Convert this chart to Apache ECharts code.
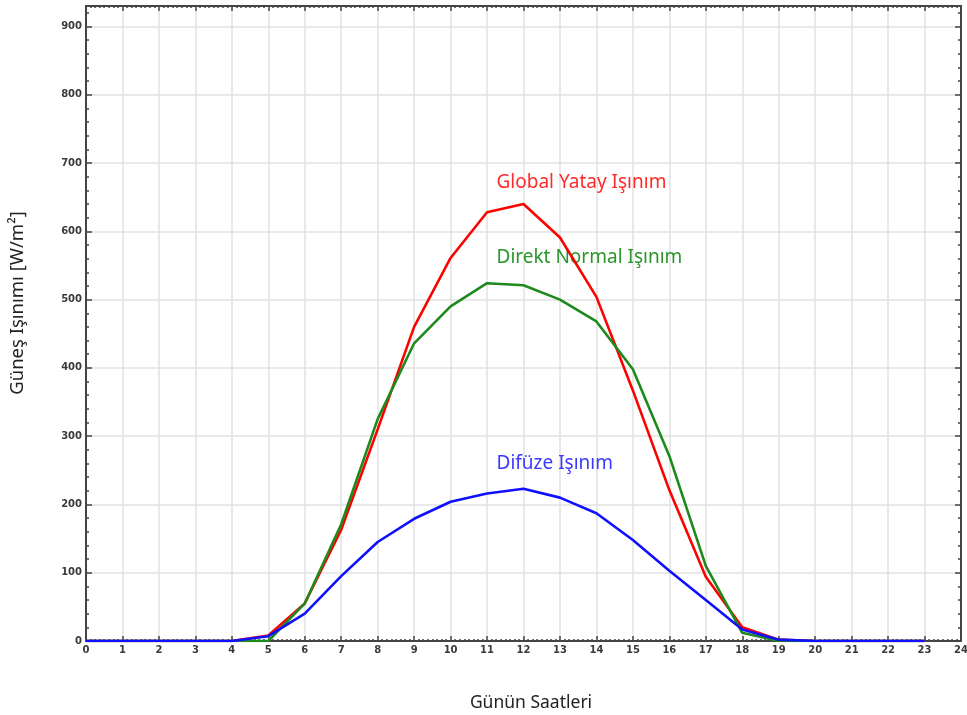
<!DOCTYPE html>
<html>
<head>
<meta charset="utf-8">
<script src="https://cdn.jsdelivr.net/npm/echarts@6/dist/echarts.min.js"></script>
<style>html,body{margin:0;padding:0;background:#fff;overflow:hidden;}#c{width:967px;height:715px;}</style>
</head>
<body>
<div id="c"></div>
<script>
const hours = [0,1,2,3,4,5,6,7,8,9,10,11,12,13,14,15,16,17,18,19,20,21,22,23];
const globalYatay = [0,0,0,0,0,8,55,163,310,460,561,628,640,591,504,367,221,94,20,2,0,0,0,0];
const direktNormal = [0,0,0,0,0,0,55,171,325,436,490,524,521,500,468,398,271,110,12,0,0,0,0,0];
const difuze = [0,0,0,0,0,7,40,95,145,179,204,216,223,210,187,148,103,60,17,2,0,0,0,0];
const seriesNames = ['Global Yatay Işınım','Direkt Normal Işınım','Difüze Işınım'];
const labelCoords = [[11.26,672],[11.26,561],[11.26,260]];
const xTitle = 'Günün Saatleri';
const yTitle = 'Güneş Işınımı [W/m²]';

const colors = ['#ff0000','#1e8a1e','#1010ff'];
const labelColors = ['#ff2a2a','#2a962a','#3a3aff'];
const dataSets = [globalYatay, direktNormal, difuze];

const chart = echarts.init(document.getElementById('c'), null, {renderer:'canvas'});
const axisLine = {show:true, onZero:false, lineStyle:{color:'#444', width:2}};
const tickStyle = {color:'#444', width:1.5};
function xAxis(pos, labels){
  return {
    type:'value', position:pos, min:0, max:24, interval:1,
    axisLine: axisLine,
    axisTick:{show:true, inside:true, length:5, lineStyle:tickStyle},
    minorTick:{show:true, splitNumber:8, length:2, lineStyle:{color:'#444', width:1.5}},
    splitLine:{show:pos==='bottom', lineStyle:{color:'#e2e2e2', width:1.5}},
    axisLabel:{show:labels, color:'#3a3a3a', fontFamily:'DejaVu Sans', fontWeight:'bold', fontSize:10, margin:4}
  };
}
function yAxis(pos, labels){
  return {
    type:'value', position:pos, min:0, max:930, interval:100,
    axisLine: axisLine,
    axisTick:{show:true, inside:true, length:6, lineStyle:tickStyle},
    minorTick:{show:true, splitNumber:5, length:3, lineStyle:{color:'#444', width:1.5}},
    splitLine:{show:pos==='left', lineStyle:{color:'#e2e2e2', width:1.5}},
    axisLabel:{show:labels, color:'#3a3a3a', fontFamily:'DejaVu Sans', fontWeight:'bold', fontSize:10, margin:4,
      formatter:function(v){ return (v % 100 === 0) ? String(v) : ''; }}
  };
}
const series = dataSets.map(function(d, i){
  return {
    name: seriesNames[i], type:'line', xAxisIndex:0, yAxisIndex:0,
    data: hours.map(function(h, j){ return [h, d[j]]; }),
    showSymbol:false, symbol:'none', z: 5 + i,
    lineStyle:{color:colors[i], width:2.6},
    itemStyle:{color:colors[i]},
    markPoint:{
      symbol:'circle', symbolSize:0, silent:true,
      data:[{coord:labelCoords[i], value:seriesNames[i]}],
      label:{show:true, position:'right', distance:0, formatter:seriesNames[i],
        color:labelColors[i], fontFamily:'Noto Sans', fontSize:19}
    }
  };
});
chart.setOption({
  animation:false,
  backgroundColor:'#fff',
  grid:{left:86, right:6, top:6, bottom:74, containLabel:false, outerBoundsMode:'none'},
  xAxis:[xAxis('bottom', true), xAxis('top', false)],
  yAxis:[yAxis('left', true), yAxis('right', false)],
  series: series,
  graphic:[
    {type:'text', x:531, y:703, style:{text:xTitle, x:0, y:0, align:'center', verticalAlign:'middle', fill:'#222', font:'17.5px "Noto Sans"'}},
    {type:'text', x:18, y:303, rotation:Math.PI/2, style:{text:yTitle, x:0, y:0, align:'center', verticalAlign:'middle', fill:'#222', font:'18.5px "Noto Sans"'}}
  ]
});
</script>
</body>
</html>
